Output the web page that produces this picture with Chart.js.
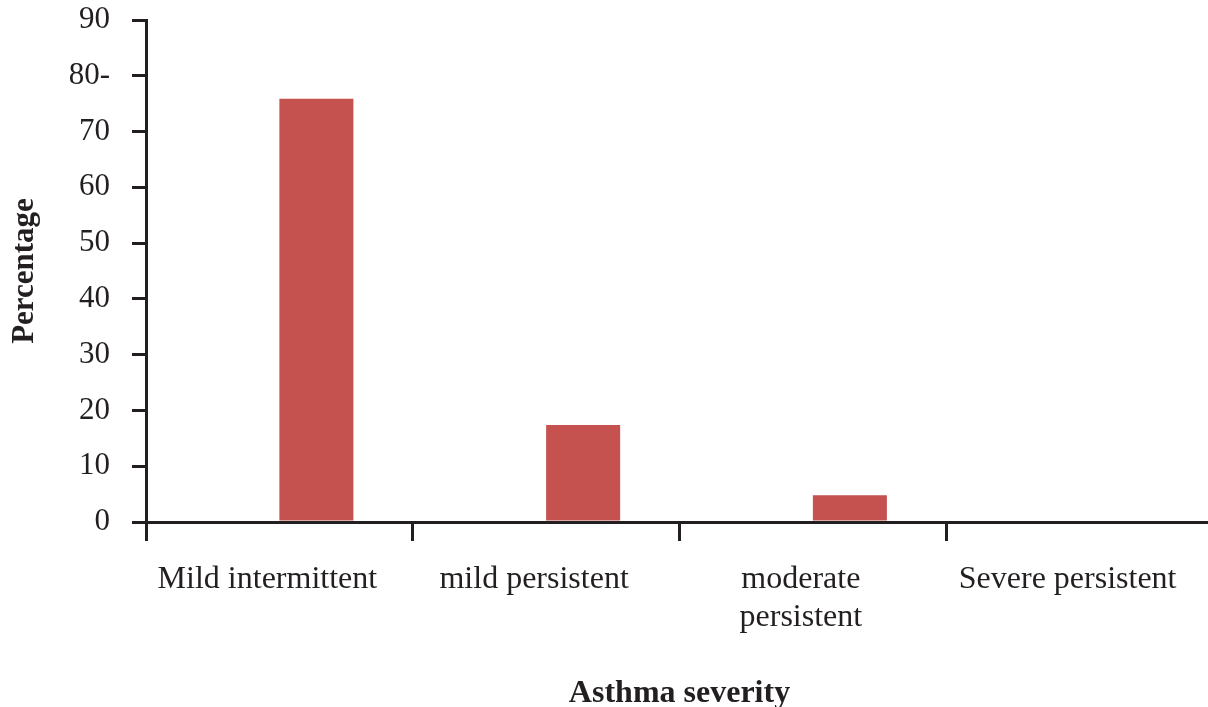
<!DOCTYPE html>
<html>
<head>
<meta charset="utf-8">
<script src="https://cdn.jsdelivr.net/npm/chart.js@4"></script>
<style>
  html, body { margin: 0; padding: 0; background: #fff; overflow: hidden; }
  #wrap { width: 1208px; height: 707px; overflow: hidden; }
  canvas { display: block; }
</style>
</head>
<body>
<div id="wrap"><canvas id="chart" width="1213" height="707"></canvas></div>
<script>
const categories = ['Mild intermittent', 'mild persistent', ['moderate', 'persistent'], 'Severe persistent'];
const percentages = [75.9, 17.4, 4.8, 0];
const spacer = [null, null, null, null];
const yTickLabels = ['0', '10', '20', '30', '40', '50', '60', '70', '80-', '90'];

const ink = '#231f20';
const serif = '"Liberation Serif", "Times New Roman", serif';

new Chart(document.getElementById('chart'), {
  type: 'bar',
  data: {
    labels: categories,
    datasets: [
      { data: spacer, backgroundColor: 'rgba(0,0,0,0)', barPercentage: 1, categoryPercentage: 0.555 },
      { data: percentages, backgroundColor: '#c5524e', barPercentage: 1, categoryPercentage: 0.555 }
    ]
  },
  options: {
    responsive: false,
    animation: false,
    layout: { padding: { top: 20, right: 0, left: 0, bottom: 0 } },
    plugins: { legend: { display: false }, tooltip: { enabled: false } },
    scales: {
      x: {
        offset: true,
        border: { display: true, color: ink, width: 3 },
        grid: { offset: true, drawOnChartArea: false, drawTicks: true, tickLength: 19, color: ink, lineWidth: 3 },
        ticks: { color: ink, font: { family: serif, size: 32 }, padding: 19, labelOffset: -12, maxRotation: 0, autoSkip: false },
        title: { display: true, text: 'Asthma severity', color: ink, font: { family: serif, size: 32, weight: 'bold' }, padding: { top: 0, bottom: -6 } },
        afterFit: s => { s.height = 185; s.paddingLeft = 0; s.paddingRight = 0; }
      },
      y: {
        min: 0,
        max: 90,
        border: { display: true, color: ink, width: 3 },
        grid: { drawOnChartArea: false, drawTicks: true, tickLength: 14, color: ink, lineWidth: 3 },
        ticks: { stepSize: 10, color: ink, font: { family: serif, size: 31 }, padding: 22, callback: (v, i) => yTickLabels[i] },
        title: { display: true, text: 'Percentage', color: ink, font: { family: serif, size: 31, weight: 'bold' }, padding: { top: 6, bottom: 0 } },
        afterFit: s => { s.width = 146; s.paddingTop = 0; s.paddingBottom = 0; }
      }
    }
  }
});
</script>
</body>
</html>
